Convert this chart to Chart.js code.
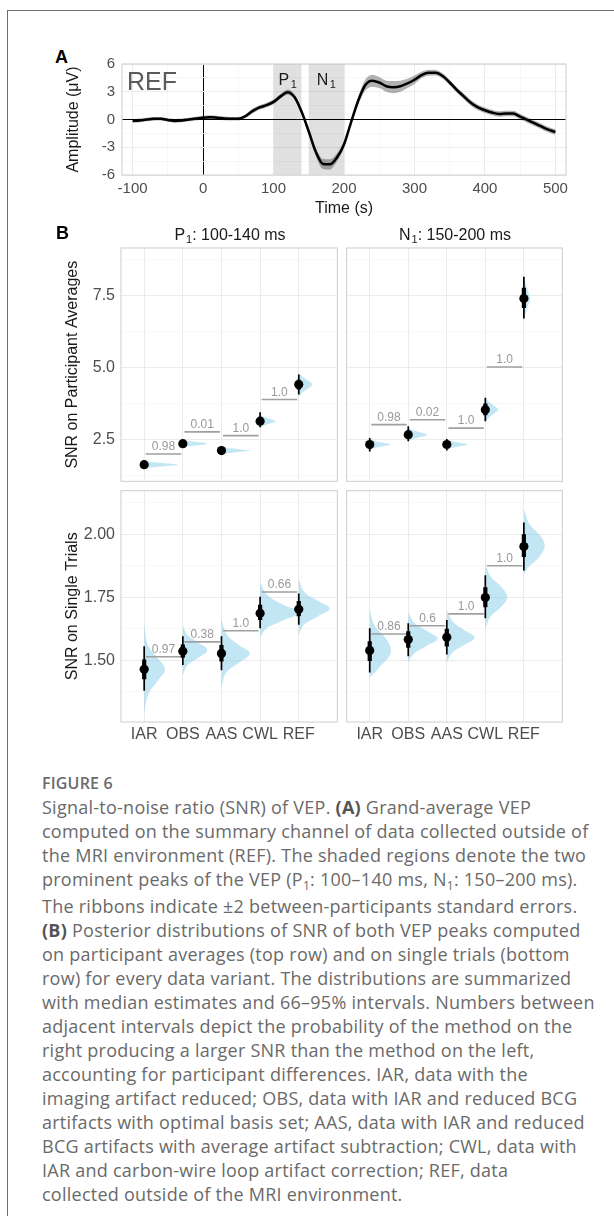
<!DOCTYPE html>
<html>
<head>
<meta charset="utf-8">
<script src="https://cdn.jsdelivr.net/npm/chart.js@4.4.1/dist/chart.umd.min.js"></script>
<style>
  html, body { margin: 0; padding: 0; background: #fff; }
  body { width: 614px; height: 1216px; position: relative; overflow: hidden;
         font-family: "Liberation Sans", Arial, sans-serif; }
  #frame { position: absolute; left: 7px; top: 10px; width: 700px; height: 1300px;
           border-left: 1px solid #707070; border-top: 1px solid #707070; }
  canvas { position: absolute; }
  .tag { position: absolute; font-weight: bold; font-size: 18px; line-height: 20px; color: #000; }
  .strip { position: absolute; width: 200px; text-align: center; font-size: 16px;
           line-height: 20px; color: #1a1a1a; }
  .sb { font-size: 11px; position: relative; top: 3px; margin-left: 1px; }
  #figno { position: absolute; left: 42px; top: 773px; font-family: "Open Sans", Lato, sans-serif;
           font-weight: 600; font-size: 16px; letter-spacing: 0.2px; line-height: 20px; color: #6a6a6a; }
  #caption { position: absolute; left: 42px; top: 795px; font-family: "Open Sans", Lato, sans-serif;
             font-size: 18px; letter-spacing: 0.25px; line-height: 24px; color: #6a6a6a; white-space: nowrap; }
  #caption b { color: #555; font-weight: 700; }
  .csub { font-size: 12px; position: relative; top: 4px; }
</style>
</head>
<body>
<div id="frame"></div>

<div class="tag" style="left:55px;top:47px">A</div>
<canvas id="vep" width="530" height="185" style="left:50px;top:40px"></canvas>

<div class="tag" style="left:56px;top:223px">B</div>
<div class="strip" style="left:130px;top:225px">P<span class="sb">1</span>: 100-140 ms</div>
<div class="strip" style="left:355px;top:225px">N<span class="sb">1</span>: 150-200 ms</div>
<canvas id="avgP1" width="292" height="246" style="left:50px;top:240px"></canvas>
<canvas id="avgN1" width="225" height="246" style="left:342px;top:240px"></canvas>
<canvas id="stP1" width="292" height="270" style="left:50px;top:486px"></canvas>
<canvas id="stN1" width="225" height="270" style="left:342px;top:486px"></canvas>

<div id="figno">FIGURE 6</div>
<div id="caption">Signal-to-noise ratio (SNR) of VEP. <b>(A)</b> Grand-average VEP<br>computed on the summary channel of data collected outside of<br>the MRI environment (REF). The shaded regions denote the two<br>prominent peaks of the VEP (P<span class="csub">1</span>: 100–140 ms, N<span class="csub">1</span>: 150–200 ms).<br>The ribbons indicate ±2 between-participants standard errors.<br><b>(B)</b> Posterior distributions of SNR of both VEP peaks computed<br>on participant averages (top row) and on single trials (bottom<br>row) for every data variant. The distributions are summarized<br>with median estimates and 66–95% intervals. Numbers between<br>adjacent intervals depict the probability of the method on the<br>right producing a larger SNR than the method on the left,<br>accounting for participant differences. IAR, data with the<br>imaging artifact reduced; OBS, data with IAR and reduced BCG<br>artifacts with optimal basis set; AAS, data with IAR and reduced<br>BCG artifacts with average artifact subtraction; CWL, data with<br>IAR and carbon-wire loop artifact correction; REF, data<br>collected outside of the MRI environment.</div>

<script>
// ---------- Panel A: grand-average VEP of REF data ----------
const vepTime = [-100, -90, -80, -70, -60, -50, -40, -30, -20, -10,
  0, 10, 20, 30, 40, 50, 60, 70, 80, 90,
  100, 110, 120, 130, 140, 150, 160, 170, 180, 190,
  200, 210, 220, 230, 240, 250, 260, 270, 280, 290,
  300, 310, 320, 330, 340, 350, 360, 370, 380, 390,
  400, 410, 420, 430, 440, 450, 460, 470, 480, 490, 500];
const vepMean = [-0.15, -0.1, 0.0, 0.07, 0.08, -0.05, -0.15, -0.1, 0.0, 0.1,
  0.2, 0.25, 0.2, 0.12, 0.08, 0.08, 0.35, 0.9, 1.3, 1.55,
  1.9, 2.5, 2.95, 2.4, 0.8, -1.3, -3.5, -4.8, -4.85, -4.1,
  -2.7, -0.3, 2.0, 3.7, 4.2, 4.0, 3.6, 3.5, 3.6, 3.9,
  4.3, 4.8, 5.05, 5.05, 4.7, 4.0, 3.2, 2.5, 1.8, 1.3,
  1.0, 0.75, 0.6, 0.65, 0.65, 0.3, -0.05, -0.4, -0.75, -1.1, -1.35];
// half-width of the ±2 SE ribbon
const vepBand = [0.2, 0.2, 0.2, 0.2, 0.2, 0.2, 0.2, 0.2, 0.2, 0.2,
  0.2, 0.2, 0.2, 0.2, 0.2, 0.2, 0.22, 0.25, 0.25, 0.25,
  0.25, 0.25, 0.28, 0.28, 0.3, 0.35, 0.45, 0.55, 0.55, 0.45,
  0.35, 0.3, 0.45, 0.6, 0.65, 0.6, 0.6, 0.65, 0.6, 0.5,
  0.45, 0.35, 0.32, 0.3, 0.3, 0.3, 0.3, 0.3, 0.3, 0.3,
  0.3, 0.3, 0.3, 0.3, 0.3, 0.3, 0.3, 0.3, 0.3, 0.3, 0.3];
const peakWindows = [[100, 140], [150, 200]];
const peakLetters = ['P', 'N'];
const vepXMajors = [-100, 0, 100, 200, 300, 400, 500];
const vepYMajors = [-6, -3, 0, 3, 6];

// ---------- Panel B: posterior SNR per data variant ----------
const methods = ['IAR', 'OBS', 'AAS', 'CWL', 'REF'];
const avgYMajors = [2.5, 5.0, 7.5];
const stYMajors = [1.50, 1.75, 2.00];

// participant averages, P1
const avgP1Median = [1.63, 2.36, 2.12, 3.14, 4.41];
const avgP1Ci66 = [[1.59, 1.67], [2.31, 2.41], [2.07, 2.17], [3.03, 3.26], [4.24, 4.58]];
const avgP1Ci95 = [[1.55, 1.72], [2.25, 2.47], [2.02, 2.23], [2.93, 3.45], [4.07, 4.76]];
const avgP1Prob = ['0.98', '0.01', '1.0', '1.0'];
const avgP1ProbAt = [2.0, 2.77, 2.64, 3.89];
const avgP1Density = [
  [[1.48, 0], [1.53, 0.12], [1.58, 0.53], [1.63, 0.87], [1.68, 0.53], [1.73, 0.12], [1.78, 0]],
  [[2.21, 0], [2.26, 0.1], [2.31, 0.4], [2.36, 0.63], [2.41, 0.4], [2.46, 0.1], [2.51, 0]],
  [[1.97, 0], [2.02, 0.12], [2.07, 0.45], [2.12, 0.75], [2.17, 0.45], [2.22, 0.12], [2.27, 0]],
  [[2.9, 0], [2.99, 0.1], [3.07, 0.28], [3.14, 0.41], [3.21, 0.28], [3.29, 0.1], [3.38, 0]],
  [[4.0, 0], [4.12, 0.08], [4.27, 0.24], [4.41, 0.35], [4.55, 0.24], [4.7, 0.08], [4.82, 0]]
];

// participant averages, N1
const avgN1Median = [2.33, 2.67, 2.33, 3.54, 7.40];
const avgN1Ci66 = [[2.22, 2.44], [2.55, 2.80], [2.23, 2.43], [3.35, 3.75], [7.07, 7.77]];
const avgN1Ci95 = [[2.09, 2.56], [2.44, 2.96], [2.12, 2.52], [3.14, 3.95], [6.70, 8.15]];
const avgN1Prob = ['0.98', '0.02', '1.0', '1.0'];
const avgN1ProbAt = [3.02, 3.19, 2.90, 5.02];
const avgN1Density = [
  [[2.12, 0], [2.2, 0.1], [2.27, 0.35], [2.33, 0.54], [2.39, 0.35], [2.46, 0.1], [2.54, 0]],
  [[2.42, 0], [2.51, 0.1], [2.59, 0.32], [2.67, 0.49], [2.75, 0.32], [2.83, 0.1], [2.92, 0]],
  [[2.12, 0], [2.2, 0.1], [2.27, 0.35], [2.33, 0.53], [2.39, 0.35], [2.46, 0.1], [2.54, 0]],
  [[3.1, 0], [3.25, 0.08], [3.4, 0.22], [3.54, 0.33], [3.68, 0.22], [3.83, 0.08], [3.98, 0]],
  [[6.6, 0], [6.9, 0.05], [7.15, 0.11], [7.4, 0.16], [7.65, 0.11], [7.9, 0.05], [8.25, 0]]
];

// single trials, P1
const stP1Median = [1.464, 1.536, 1.527, 1.686, 1.702];
const stP1Ci66 = [[1.425, 1.503], [1.51, 1.562], [1.495, 1.56], [1.66, 1.72], [1.675, 1.735]];
const stP1Ci95 = [[1.379, 1.556], [1.481, 1.595], [1.46, 1.595], [1.627, 1.752], [1.641, 1.765]];
const stP1Prob = ['0.97', '0.38', '1.0', '0.66'];
const stP1ProbAt = [1.514, 1.573, 1.617, 1.771];
const stP1Density = [
  [[1.64, 0], [1.56, 0.1], [1.51, 0.34], [1.465, 0.54], [1.42, 0.36], [1.37, 0.12], [1.29, 0]],
  [[1.64, 0], [1.6, 0.12], [1.57, 0.4], [1.54, 0.63], [1.51, 0.4], [1.48, 0.12], [1.44, 0]],
  [[1.66, 0], [1.6, 0.15], [1.56, 0.45], [1.527, 0.73], [1.49, 0.45], [1.45, 0.12], [1.39, 0]],
  [[1.81, 0], [1.76, 0.18], [1.72, 0.6], [1.69, 1.02], [1.655, 0.55], [1.625, 0.15], [1.59, 0]],
  [[1.82, 0], [1.77, 0.15], [1.735, 0.5], [1.705, 0.8], [1.675, 0.5], [1.64, 0.13], [1.6, 0]]
];

// single trials, N1
const stN1Median = [1.539, 1.582, 1.591, 1.749, 1.951];
const stN1Ci66 = [[1.497, 1.575], [1.55, 1.615], [1.555, 1.625], [1.71, 1.79], [1.91, 2.0]];
const stN1Ci95 = [[1.451, 1.627], [1.516, 1.647], [1.523, 1.66], [1.667, 1.837], [1.856, 2.046]];
const stN1Prob = ['0.86', '0.6', '1.0', '1.0'];
const stN1ProbAt = [1.604, 1.637, 1.684, 1.875];
const stN1Density = [
  [[1.70, 0], [1.64, 0.12], [1.59, 0.4], [1.55, 0.54], [1.52, 0.52], [1.48, 0.3], [1.43, 0]],
  [[1.69, 0], [1.65, 0.15], [1.615, 0.5], [1.585, 0.76], [1.555, 0.45], [1.525, 0.14], [1.49, 0]],
  [[1.70, 0], [1.655, 0.15], [1.62, 0.45], [1.59, 0.72], [1.56, 0.45], [1.53, 0.14], [1.49, 0]],
  [[1.88, 0], [1.83, 0.15], [1.79, 0.42], [1.75, 0.57], [1.71, 0.4], [1.67, 0.12], [1.62, 0]],
  [[2.10, 0], [2.04, 0.15], [1.995, 0.42], [1.955, 0.54], [1.91, 0.4], [1.87, 0.12], [1.84, 0]]
];

// ---------- shared helpers ----------
const FONT = '"Liberation Sans", Arial, sans-serif';
Chart.defaults.font.family = FONT;
Chart.defaults.color = '#4d4d4d';
Chart.defaults.animation = false;
Chart.defaults.events = [];
Chart.defaults.plugins.legend.display = false;
Chart.defaults.plugins.tooltip.enabled = false;

const GRID_MAJOR = '#ebebeb';
const GRID_MINOR = '#f5f5f5';

const isMajor = (majors, v) => majors.some(m => Math.abs(m - v) < 1e-9);

// major ticks plus the half-way minor ticks that fall inside [lo, hi]
function withMinor(majors, lo, hi) {
  const step = majors[1] - majors[0];
  const vals = [];
  for (let k = 0; k <= majors.length; k++) {
    const mid = majors[0] + (k - 0.5) * step;
    if (mid >= lo - 1e-9 && mid <= hi + 1e-9) vals.push(mid);
    if (k < majors.length && majors[k] >= lo && majors[k] <= hi) vals.push(majors[k]);
  }
  return vals;
}

function gridColor(majors, zeroBlack) {
  return c => {
    const v = c.tick ? c.tick.value : NaN;
    if (zeroBlack && Math.abs(v) < 1e-9) return '#000';
    return isMajor(majors, v) ? GRID_MAJOR : GRID_MINOR;
  };
}
function gridWidth(majors) {
  return c => (c.tick && isMajor(majors, c.tick.value)) ? 1 : 0.8;
}

// fixed axis sizes so every panel lines up; no extra room for edge labels
function fixY(width) {
  return s => { s.width = width; s.paddingTop = 0; s.paddingBottom = 0; };
}
function fixX(height) {
  return s => { s.height = height; s.paddingLeft = 0; s.paddingRight = 0; };
}

// light border around each plotting panel
const panelFrame = {
  id: 'panelFrame',
  afterDraw(chart) {
    const { ctx, chartArea: a } = chart;
    ctx.save();
    ctx.strokeStyle = '#d5d5d5';
    ctx.lineWidth = 1.2;
    ctx.strokeRect(a.left, a.top, a.right - a.left, a.bottom - a.top);
    ctx.restore();
  }
};

function drawSubscripted(ctx, base, sub, cx, baseline) {
  ctx.font = '16px ' + FONT;
  const wb = ctx.measureText(base).width;
  ctx.font = '11px ' + FONT;
  const ws = ctx.measureText(sub).width;
  const gap = 1.5;
  const x0 = cx - (wb + gap + ws) / 2;
  ctx.font = '16px ' + FONT;
  ctx.fillText(base, x0, baseline);
  ctx.font = '11px ' + FONT;
  ctx.fillText(sub, x0 + wb + gap, baseline + 3);
}

// REF tag and peak names for panel A
const vepAnnotations = {
  id: 'vepAnnotations',
  afterDatasetsDraw(chart) {
    const { ctx, chartArea: a, scales: { x } } = chart;
    ctx.save();
    ctx.textAlign = 'left';
    ctx.textBaseline = 'alphabetic';
    ctx.fillStyle = '#5a5a5a';
    ctx.font = '25px ' + FONT;
    ctx.fillText('REF', a.left + 5, a.top + 26);
    ctx.fillStyle = '#1a1a1a';
    peakWindows.forEach(([s, e], k) => {
      drawSubscripted(ctx, peakLetters[k], '1', x.getPixelForValue((s + e) / 2), a.top + 21);
    });
    ctx.restore();
  }
};

// probability labels above the comparison lines
const probLabels = {
  id: 'probLabels',
  afterDatasetsDraw(chart, args, opts) {
    if (!opts || !opts.texts) return;
    const { ctx, scales: { x, y } } = chart;
    ctx.save();
    ctx.font = '12px ' + FONT;
    ctx.fillStyle = '#999';
    ctx.textAlign = 'center';
    ctx.textBaseline = 'alphabetic';
    opts.texts.forEach((t, i) => {
      ctx.fillText(t, x.getPixelForValue(i + 0.5), y.getPixelForValue(opts.levels[i]) - 4);
    });
    ctx.restore();
  }
};

// ---------- Panel A chart ----------
(function () {
  const X_MIN = -115, X_MAX = 515, Y_MIN = -6, Y_MAX = 6;
  const line = vepTime.map((t, i) => ({ x: t, y: vepMean[i] }));
  const upper = vepTime.map((t, i) => ({ x: t, y: vepMean[i] + vepBand[i] }));
  const lower = vepTime.map((t, i) => ({ x: t, y: vepMean[i] - vepBand[i] }));
  const windows = peakWindows.map(([s, e]) => ({
    data: [{ x: s, y: Y_MAX }, { x: e, y: Y_MAX }],
    fill: 'start', backgroundColor: 'rgba(0,0,0,0.12)',
    borderColor: 'transparent', borderWidth: 0, pointRadius: 0, order: 3
  }));

  new Chart(document.getElementById('vep'), {
    type: 'line',
    data: {
      datasets: [
        { data: line, borderColor: '#000', borderWidth: 2.5, pointRadius: 0,
          cubicInterpolationMode: 'monotone', fill: false, order: 0 },
        { data: upper, borderColor: 'transparent', borderWidth: 0, pointRadius: 0,
          cubicInterpolationMode: 'monotone', fill: false, order: 2 },
        { data: lower, borderColor: 'transparent', borderWidth: 0, pointRadius: 0,
          cubicInterpolationMode: 'monotone', fill: 1, backgroundColor: 'rgba(0,0,0,0.3)', order: 1 },
        ...windows
      ]
    },
    options: {
      responsive: false,
      layout: { padding: { top: 24, right: 14, left: 0, bottom: 0 } },
      scales: {
        x: {
          type: 'linear', min: X_MIN, max: X_MAX,
          afterBuildTicks: s => { s.ticks = withMinor(vepXMajors, X_MIN, X_MAX).map(v => ({ value: v })); },
          afterFit: fixX(50),
          ticks: { autoSkip: false, maxRotation: 0, padding: 5, font: { size: 15 }, color: '#4d4d4d',
                   callback: v => isMajor(vepXMajors, v) ? String(v) : '' },
          grid: { drawTicks: false, color: gridColor(vepXMajors, true), lineWidth: gridWidth(vepXMajors) },
          border: { display: false },
          title: { display: true, text: 'Time (s)', font: { size: 16 }, color: '#1a1a1a',
                   padding: { top: 0, bottom: 7 } }
        },
        y: {
          type: 'linear', min: Y_MIN, max: Y_MAX,
          afterBuildTicks: s => { s.ticks = withMinor(vepYMajors, Y_MIN, Y_MAX).map(v => ({ value: v })); },
          afterFit: fixY(72),
          ticks: { autoSkip: false, padding: 7, font: { size: 15 }, color: '#4d4d4d',
                   callback: v => isMajor(vepYMajors, v) ? String(v) : '' },
          grid: { drawTicks: false, color: gridColor(vepYMajors, true), lineWidth: gridWidth(vepYMajors) },
          border: { display: false },
          title: { display: true, text: 'Amplitude (μV)', font: { size: 16 }, color: '#1a1a1a',
                   padding: { top: 14, bottom: 0 } }
        }
      }
    },
    plugins: [vepAnnotations, panelFrame]
  });
})();

// ---------- Panel B charts ----------
function posteriorChart(id, s) {
  const X_MIN = -0.6, X_MAX = 5.0;
  const densSets = s.density.map((pts, i) => ({
    data: pts.map(([v, w]) => ({ x: i + w, y: v })),
    fill: 'shape', backgroundColor: 'rgba(135,206,235,0.5)',
    borderColor: 'transparent', borderWidth: 0, pointRadius: 0, tension: 0.4, order: 5
  }));
  const segs = pairs => pairs.flatMap(([lo, hi], i) => [{ x: i, y: lo }, { x: i, y: hi }, { x: i, y: null }]);
  const probSegs = s.probAt.flatMap((lvl, i) => [{ x: i + 0.04, y: lvl }, { x: i + 0.96, y: lvl }, { x: i + 1, y: null }]);

  new Chart(document.getElementById(id), {
    type: 'line',
    data: {
      datasets: [
        ...densSets,
        { data: probSegs, borderColor: '#a0a0a0', borderWidth: 1.6, pointRadius: 0, spanGaps: false, fill: false, order: 4 },
        { data: segs(s.ci95), borderColor: '#000', borderWidth: 1.7, pointRadius: 0, spanGaps: false, fill: false, order: 3 },
        { data: segs(s.ci66), borderColor: '#000', borderWidth: 4.2, pointRadius: 0, spanGaps: false, fill: false, order: 2 },
        { data: s.median.map((m, i) => ({ x: i, y: m })), showLine: false, pointRadius: 4.6,
          pointBackgroundColor: '#000', pointBorderWidth: 0, order: 1 }
      ]
    },
    options: {
      responsive: false,
      layout: { padding: { top: s.padTop, right: 4, left: 0, bottom: 0 } },
      plugins: { probLabels: { texts: s.prob, levels: s.probAt } },
      scales: {
        x: {
          type: 'linear', min: X_MIN, max: X_MAX,
          afterBuildTicks: sc => { sc.ticks = methods.map((_, i) => ({ value: i })); },
          afterFit: fixX(s.xHeight),
          ticks: { display: s.showX, autoSkip: false, maxRotation: 0, padding: 3,
                   font: { size: 16 }, color: '#4d4d4d', callback: v => methods[v] },
          grid: { drawTicks: false, color: GRID_MAJOR, lineWidth: 1 },
          border: { display: false }
        },
        y: {
          type: 'linear', min: s.yMin, max: s.yMax,
          afterBuildTicks: sc => { sc.ticks = withMinor(s.yMajors, s.yMin, s.yMax).map(v => ({ value: v })); },
          afterFit: fixY(s.yWidth),
          ticks: { display: !!s.yTitle, autoSkip: false, padding: 6, font: { size: 16 }, color: '#4d4d4d',
                   callback: v => isMajor(s.yMajors, v) ? v.toFixed(s.yDigits) : '' },
          grid: { drawTicks: false, color: gridColor(s.yMajors, false), lineWidth: gridWidth(s.yMajors) },
          border: { display: false },
          title: { display: !!s.yTitle, text: s.yTitle || '', font: { size: 16 }, color: '#1a1a1a',
                   padding: { top: 13, bottom: 0 } }
        }
      }
    },
    plugins: [probLabels, panelFrame]
  });
}

const avgRange = { yMin: 1.05, yMax: 9.15, yMajors: avgYMajors, yDigits: 1 };
const stRange = { yMin: 1.255, yMax: 2.173, yMajors: stYMajors, yDigits: 2 };

posteriorChart('avgP1', Object.assign({
  median: avgP1Median, ci66: avgP1Ci66, ci95: avgP1Ci95, prob: avgP1Prob, probAt: avgP1ProbAt,
  density: avgP1Density, yTitle: 'SNR on Participant Averages', yWidth: 71, padTop: 8, xHeight: 4, showX: false
}, avgRange));
posteriorChart('avgN1', Object.assign({
  median: avgN1Median, ci66: avgN1Ci66, ci95: avgN1Ci95, prob: avgN1Prob, probAt: avgN1ProbAt,
  density: avgN1Density, yTitle: null, yWidth: 4, padTop: 8, xHeight: 4, showX: false
}, avgRange));
posteriorChart('stP1', Object.assign({
  median: stP1Median, ci66: stP1Ci66, ci95: stP1Ci95, prob: stP1Prob, probAt: stP1ProbAt,
  density: stP1Density, yTitle: 'SNR on Single Trials', yWidth: 71, padTop: 2, xHeight: 34, showX: true
}, stRange));
posteriorChart('stN1', Object.assign({
  median: stN1Median, ci66: stN1Ci66, ci95: stN1Ci95, prob: stN1Prob, probAt: stN1ProbAt,
  density: stN1Density, yTitle: null, yWidth: 4, padTop: 2, xHeight: 34, showX: true
}, stRange));
</script>
</body>
</html>
